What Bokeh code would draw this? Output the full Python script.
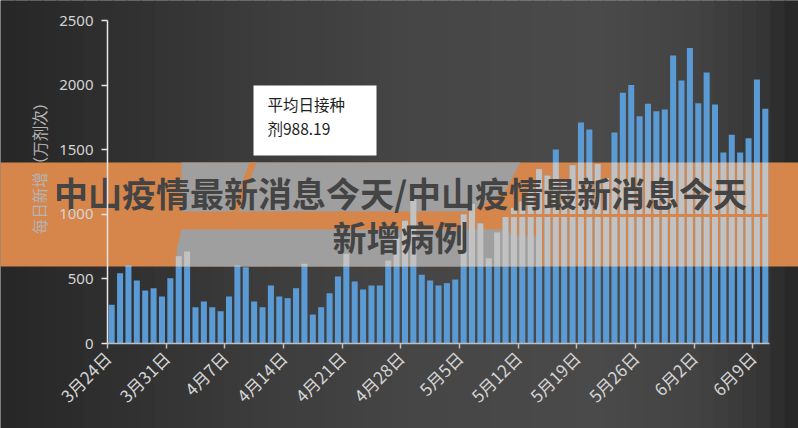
import math
import numpy as np
import pandas as pd
from bokeh.plotting import figure
from bokeh.layouts import column
from bokeh.models import Range1d, BoxAnnotation, Label, FixedTicker, PolyAnnotation
from bokeh.embed import file_html
from bokeh.resources import INLINE

# ---------------- data ----------------
dates = pd.date_range("2021-03-24", "2021-06-10", freq="D")
daily = [300, 544, 604, 488, 410, 428, 364, 505, 676, 712,
         281, 325, 281, 250, 364, 604, 590, 325, 281, 449,
         364, 351, 428, 617, 224, 281, 389, 519, 694, 480,
         418, 449, 449, 642, 820, 950, 1150, 532, 488, 449,
         467, 495, 1000, 1080, 930, 660, 860, 1000, 1050, 1100,
         1200, 1350, 1300, 1502, 1250, 1380, 1710, 1656, 1390, 1280,
         1633, 1940, 2000, 1759, 1855, 1798, 1811, 2229, 2036, 2287,
         1860, 2098, 1850, 1478, 1615, 1478, 1589, 2043, 1817]
tick_labels = ["3月24日", "3月31日", "4月7日", "4月14日", "4月21日", "4月28日",
               "5月5日", "5月12日", "5月19日", "5月26日", "6月2日", "6月9日"]
y_ticks = [0, 500, 1000, 1500, 2000, 2500]
avg_lines = ["平均日接种", "剂988.19"]
title_lines = ["中山疫情最新消息今天/中山疫情最新消息今天", "新增病例"]
y_label = "每日新增（万剂次）"

n = len(daily)
xs = np.arange(n) + 0.5
vals = np.array(daily, dtype=float)

# ---------------- layout ----------------
W, H = 798, 428
FL, FR, FT, FB = 107, 769, 20, 343   # frame edges in pixels
YMAX = 2500


def dx(px):
    return (px - FL) * n / (FR - FL)


def dy(py):
    return (FB - py) * YMAX / (FB - FT)


ORANGE = "#d6854b"
BRUSH = "#9f9f9f"

# ---- layer A: full-canvas drawing surface (same data mapping as the axes) ----
A = figure(width=W, height=H, output_backend="svg", toolbar_location=None, title=None,
           x_range=Range1d(dx(0), dx(W)), y_range=Range1d(dy(H), dy(0)),
           x_axis_type=None, y_axis_type=None, min_border=0, frame_align=False)
A.background_fill_color = "#3c3c3c"
A.border_fill_color = "#3c3c3c"
A.outline_line_color = None
A.grid.visible = False

# background gradient (horizontal)
stops = [(0, 0x26), (120, 0x30), (260, 0x3c), (420, 0x46), (600, 0x4a), (700, 0x42), (760, 0x36), (798, 0x25)]
sx = [s[0] for s in stops]
sv = [s[1] for s in stops]
step = 14
for x0 in range(0, W, step):
    g = int(round(np.interp(x0 + step / 2, sx, sv)))
    col = "#%02x%02x%02x" % (g, g, g)
    A.add_layout(BoxAnnotation(left=dx(x0), right=dx(x0 + step + 1), top=dy(-2), bottom=dy(H + 2),
                               fill_color=col, fill_alpha=1, line_color=None, level="underlay"))

# orange band (under the bars)
band_top, band_bot = 162, 266
A.add_layout(BoxAnnotation(left=dx(-2), right=dx(W + 2), top=dy(band_top), bottom=dy(band_bot),
                           fill_color=ORANGE, fill_alpha=1, line_color=None, level="underlay"))

# bars
A.vbar(x=xs, top=vals, width=0.72, bottom=0, fill_color="#5b9bd5", line_color=None)

# gray brush stroke in the band (upper and lower parts)
brush_x = [181, 520, 505, 470, 181]
brush_y = [162, 162, 190, 211, 211]
A.add_layout(PolyAnnotation(xs=[dx(v) for v in brush_x], ys=[dy(v) for v in brush_y],
                            fill_color=BRUSH, fill_alpha=1, line_color=None, level="annotation"))
brush2_x = [181, 500, 520, 540, 540, 177, 176]
brush2_y = [229, 229, 236, 236, 266, 266, 250]
A.add_layout(PolyAnnotation(xs=[dx(v) for v in brush2_x], ys=[dy(v) for v in brush2_y],
                            fill_color=BRUSH, fill_alpha=1, line_color=None, level="annotation"))
# diagonal orange stroke inside the brush
stroke_x = [249, 256, 238, 231]
stroke_y = [162, 162, 211, 211]
A.add_layout(PolyAnnotation(xs=[dx(v) for v in stroke_x], ys=[dy(v) for v in stroke_y],
                            fill_color=ORANGE, fill_alpha=1, line_color=None, level="annotation"))

# ghost bars inside the band
bt, bb = dy(band_top), dy(band_bot)
mask = vals > bb
A.vbar(x=xs[mask], top=np.minimum(vals[mask], bt), bottom=bb, width=0.72,
       fill_color="#c2c2c2", line_color=None, level="overlay")

# thin orange stroke on the right
A.add_layout(BoxAnnotation(left=dx(500), right=dx(767), top=dy(213.5), bottom=dy(216.5),
                           fill_color=ORANGE, fill_alpha=1, line_color=None, level="overlay"))

# average annotation box
A.add_layout(BoxAnnotation(left=dx(253), right=dx(376), top=dy(85), bottom=dy(155),
                           fill_color="#ffffff", fill_alpha=1, line_color=None, level="annotation"))
for i, t in enumerate(avg_lines):
    A.add_layout(Label(x=dx(267), y=dy(103 + 24 * i), text=t, text_align="left", text_baseline="middle",
                       text_font="Noto Sans CJK SC", text_font_size="15.5px", text_color="#1e1e1e",
                       level="annotation"))

# y axis title (vertical)
A.add_layout(Label(x=dx(38), y=dy(164), text=y_label, angle=math.pi / 2, text_align="center",
                   text_baseline="middle", text_font="Noto Sans CJK SC", text_font_size="15.5px",
                   text_color="#b4b4b4", level="annotation"))

# overlay title
for i, t in enumerate(title_lines):
    A.add_layout(Label(x=dx(400), y=dy(192 + 44 * i), text=t, text_align="center", text_baseline="middle",
                       text_font="Noto Sans CJK SC", text_font_size="34px", text_font_style="bold",
                       text_color="#444444", level="overlay"))

# ---- layer B: the axes, drawn on top with a transparent background ----
B = figure(width=W, height=H, output_backend="svg", toolbar_location=None, title=None,
           x_range=Range1d(0, n), y_range=Range1d(0, YMAX),
           min_border_left=FL, min_border_right=W - FR,
           min_border_top=FT, min_border_bottom=H - FB, frame_align=False,
           styles={"margin-top": "-%dpx" % H})
B.background_fill_alpha = 0
B.border_fill_alpha = 0
B.outline_line_color = None
B.xgrid.visible = False
B.ygrid.visible = False
B.scatter(x=[], y=[])

B.yaxis.ticker = FixedTicker(ticks=y_ticks)
B.yaxis.axis_line_color = "#e6e6e6"
B.yaxis.axis_line_width = 1.5
B.yaxis.major_tick_line_color = "#e6e6e6"
B.yaxis.major_tick_line_width = 1.5
B.yaxis.major_tick_out = 6
B.yaxis.major_tick_in = 0
B.yaxis.minor_tick_line_color = None
B.yaxis.major_label_text_color = "#d4d4d4"
B.yaxis.major_label_text_font = "Noto Sans"
B.yaxis.major_label_text_font_size = "15px"
B.yaxis.major_label_standoff = 8

B.xaxis.ticker = FixedTicker(ticks=[7 * i for i in range(len(tick_labels))])
B.xaxis.major_label_overrides = {7 * i: t for i, t in enumerate(tick_labels)}
B.xaxis.major_label_orientation = math.pi / 4
B.xaxis.axis_line_color = "#bfbfbf"
B.xaxis.axis_line_width = 1.5
B.xaxis.major_tick_line_color = "#bfbfbf"
B.xaxis.major_tick_line_width = 1.5
B.xaxis.major_tick_out = 5
B.xaxis.major_tick_in = 0
B.xaxis.minor_tick_line_color = None
B.xaxis.major_label_text_color = "#d4d4d4"
B.xaxis.major_label_text_font = "Noto Sans CJK SC"
B.xaxis.major_label_text_font_size = "17px"
B.xaxis.major_label_standoff = 6

layout = column(A, B, spacing=0)
open("out.html", "w").write(file_html(layout, INLINE))
